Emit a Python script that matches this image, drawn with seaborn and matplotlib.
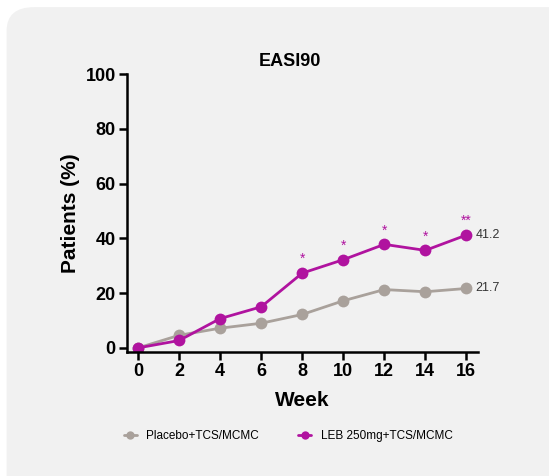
import numpy as np
import pandas as pd
import matplotlib
matplotlib.use("Agg")
import matplotlib.pyplot as plt
from matplotlib.patches import FancyBboxPatch
from matplotlib.lines import Line2D
import seaborn as sns

weeks = [0, 2, 4, 6, 8, 10, 12, 14, 16]
placebo = [0, 4.6, 7.2, 9.0, 12.2, 17.2, 21.3, 20.5, 21.7]
leb = [0, 2.7, 10.7, 15.0, 27.3, 32.2, 37.8, 35.6, 41.2]
stars = ["", "", "", "", "*", "*", "*", "*", "**"]
labels = ["Placebo+TCS/MCMC", "LEB 250mg+TCS/MCMC"]
colors = ["#a9a19b", "#b0139f"]

sns.set_style("ticks")
plt.rcParams["font.family"] = ["Liberation Sans", "DejaVu Sans"]
plt.rcParams["text.color"] = "black"
plt.rcParams["axes.labelcolor"] = "black"
plt.rcParams["xtick.color"] = "black"
plt.rcParams["ytick.color"] = "black"

df = pd.DataFrame({"Week": weeks * 2,
                   "Patients": placebo + leb,
                   "Group": [labels[0]] * len(weeks) + [labels[1]] * len(weeks)})

fig = plt.figure(figsize=(5.49, 4.76), dpi=100)
fig.patch.set_facecolor("white")
# rounded grey panel behind everything
bg = FancyBboxPatch((0.012, -0.05), 1.05, 1.035, boxstyle="round,pad=0,rounding_size=0.05",
                    transform=fig.transFigure, facecolor="#f1f1f1", edgecolor="none", zorder=-10)
fig.patches.append(bg)

ax = fig.add_axes([0.231, 0.2605, 0.639, 0.584])
ax.set_facecolor("none")
ax.set_zorder(5)
sns.lineplot(data=df, x="Week", y="Patients", hue="Group", palette=colors,
             marker="o", markersize=8.5, markeredgewidth=0, linewidth=2.0,
             legend=False, ax=ax)

for w, v, s in zip(weeks, leb, stars):
    if s:
        ax.text(w, v + 2.5, s, ha="center", va="bottom", color=colors[1], fontsize=10)
ax.text(weeks[-1] + 0.45, leb[-1], f"{leb[-1]}", va="center", ha="left", fontsize=9, color="#333333")
ax.text(weeks[-1] + 0.45, placebo[-1], f"{placebo[-1]}", va="center", ha="left", fontsize=9, color="#333333")

ax.set_xlim(-0.55, 16.55)
ax.set_ylim(-1.5, 100)
ax.set_xticks(weeks)
ax.set_yticks([0, 20, 40, 60, 80, 100])
for lab in ax.get_xticklabels() + ax.get_yticklabels():
    lab.set_fontweight("bold")
    lab.set_fontsize(13)
ax.tick_params(width=1.8, length=6, color="black", pad=2)
for sp in ["left", "bottom"]:
    ax.spines[sp].set_linewidth(1.8)
    ax.spines[sp].set_color("black")
sns.despine(ax=ax)

ax.set_xlabel("Week", fontsize=15, fontweight="bold", labelpad=8)
ax.set_ylabel("Patients (%)", fontsize=15, fontweight="bold", labelpad=4)
ax.set_title("EASI90", fontsize=13, fontweight="bold", pad=6, x=0.465)

handles = [Line2D([], [], color=c, marker="o", markersize=6, markeredgewidth=0, linewidth=2) for c in colors]
fig.legend(handles, labels, loc="center", bbox_to_anchor=(0.525, 0.083), ncol=2, frameon=False,
           fontsize=8.5, handlelength=1.1, columnspacing=3.3)

fig.savefig("out.png", dpi=100)
